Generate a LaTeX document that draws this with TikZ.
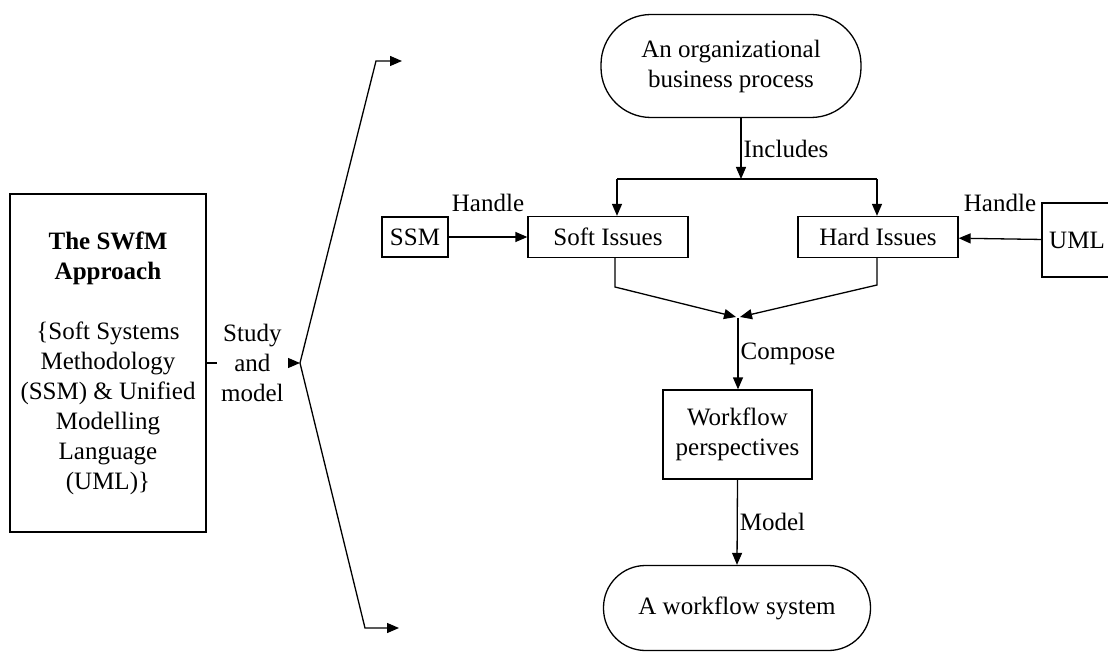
\documentclass[tikz,border=0pt]{standalone}
\usepackage{fontspec}
\setmainfont{Liberation Serif}
\usetikzlibrary{arrows.meta}
\begin{document}
\begin{tikzpicture}[x=1pt,y=-1pt,
  font=\fontsize{25}{30}\selectfont,
  line width=1.3pt,
  >={Triangle[length=12pt,width=10pt]},
  box/.style={draw,rectangle,inner sep=0pt,align=center},
  stadium/.style={draw,rectangle,rounded corners=42pt,inner sep=0pt,align=center},
  lbl/.style={inner sep=2pt}]
\useasboundingbox (0,0) rectangle (1108,652);

% approach box on the left
\node[box,minimum width=196pt,minimum height=338pt] (swfm) at (108,363)
  {\textbf{The SWfM}\\\textbf{Approach}\\[30pt]\{Soft Systems\\Methodology\\(SSM) \& Unified\\Modelling\\Language\\(UML)\}};

% fan-out bracket
\coordinate (apex) at (300,363);
\coordinate (topbend) at (376,61);
\coordinate (topend) at (402,61);
\coordinate (botbend) at (365,628);
\coordinate (botend) at (399,628);

% flow nodes
\node[stadium,rounded corners=50pt,minimum width=260pt,minimum height=103pt] (org) at (731,66)
  {An organizational\\business process};
\node[box,minimum width=66pt,minimum height=40pt] (ssm) at (415,237) {SSM};
\node[box,minimum width=160pt,minimum height=41pt] (soft) at (608,237) {Soft Issues};
\node[box,minimum width=160pt,minimum height=41pt] (hard) at (878,237) {Hard Issues};
\node[box,minimum width=70pt,minimum height=74pt] (uml) at (1077,240) {UML};
\node[box,minimum width=149pt,minimum height=89pt] (wf) at (737.5,434.5)
  {Workflow\\perspectives};
\node[stadium,minimum width=267pt,minimum height=85pt] (ws) at (737,608)
  {A workflow system};

% helper points of the split and merge
\coordinate (split) at (741,179);
\coordinate (sl) at (617,179);
\coordinate (sr) at (877,179);
\coordinate (softdrop) at (615,287);
\coordinate (harddrop) at (877,285);
\coordinate (mergeL) at (736,317);
\coordinate (mergeR) at (740,317);
\coordinate (merge) at (738,318);

% study and model
\draw[->] (swfm.east) -- node[lbl,fill=white,inner xsep=4pt,align=center,pos=0.49] {Study\\and\\model} (apex);
\draw[->] (apex) -- (topbend) -- (topend);
\draw[->] (apex) -- (botbend) -- (botend);

% includes
\draw[->] (split |- org.south) -- node[lbl,right] {Includes} (split);
\draw (sl) -- (sr);
\draw[->] (sl) -- (sl |- soft.north);
\draw[->] (sr) -- (sr |- hard.north);

% handle
\draw[->] (ssm) -- node[lbl,anchor=base,inner sep=0pt,yshift=25pt] {Handle} (soft);
\draw[->] (uml) -- node[lbl,anchor=base,inner sep=0pt,yshift=27pt] {Handle} (hard);

% compose
\draw[->] (soft.south -| softdrop) -- (softdrop) -- (mergeL);
\draw[->] (hard.south -| harddrop) -- (harddrop) -- (mergeR);
\draw[->] (merge) -- node[lbl,right] {Compose} (merge |- wf.north);

% model
\draw[->] (wf.south) -- node[lbl,right] {Model} (ws.north);
\end{tikzpicture}
\end{document}
